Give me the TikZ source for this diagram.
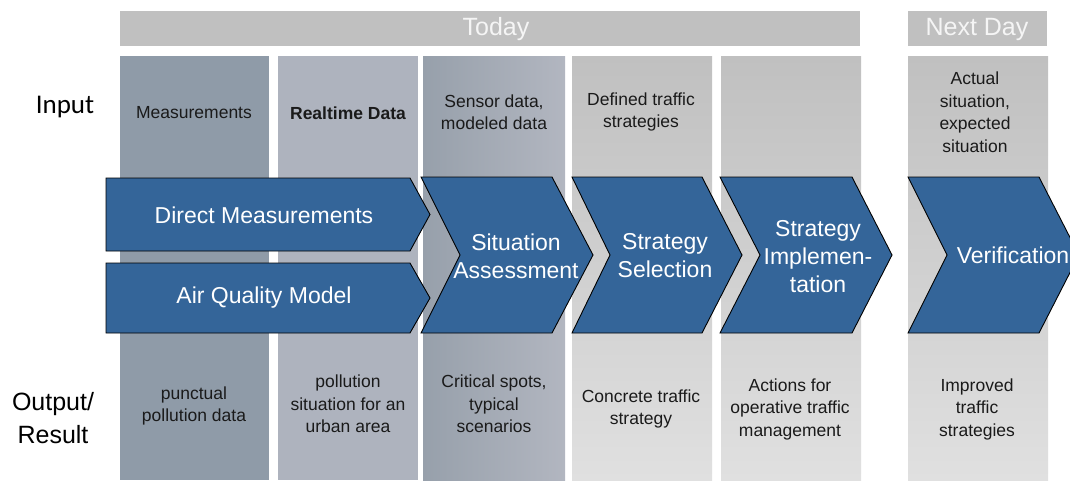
\documentclass[tikz,border=0pt]{standalone}
\usepackage{fontspec}
\setmainfont{Liberation Sans}
\newfontfamily\labelfont{Carlito}
\definecolor{chevblue}{HTML}{346599}
\definecolor{colA}{HTML}{8F9BA8}
\definecolor{colB}{HTML}{AEB3BE}
\definecolor{colCl}{HTML}{97A0AB}
\definecolor{colCr}{HTML}{B2B6C0}
\definecolor{greyTop}{HTML}{C0C0C0}
\definecolor{greyBot}{HTML}{E0E0E0}
\definecolor{banner}{HTML}{C0C0C0}
\definecolor{txt}{HTML}{1A1A1A}
\begin{document}
\begin{tikzpicture}[x=1pt,y=-1pt,
  bannerbox/.style={fill=banner,draw=none},
  bannertext/.style={font=\fontsize{25}{28}\selectfont,text=white!96!black,inner sep=0pt},
  chev/.style={fill=chevblue,draw=black,line width=0.9pt,line join=miter},
  chevtext/.style={font=\fontsize{23}{28}\selectfont,text=white,align=center,inner sep=0pt},
  small/.style={font=\fontsize{17.5}{22.5}\selectfont,text=txt,align=center,inner sep=0pt},
  rowlabel/.style={font=\fontsize{25}{33}\selectfont,text=black,align=center,inner sep=0pt}]
\useasboundingbox (0,0) rectangle (1070,480);
\clip (0,0) rectangle (1070,480);
\fill[white] (0,0) rectangle (1070,480);

% time banners
\fill[bannerbox] (120,11) rectangle (860,46);
\fill[bannerbox] (908,11) rectangle (1047,46);
\node[bannertext] (today) at (496,29) {Today};
\node[bannertext] (nextday) at (977,29) {Next Day};

% phase columns
\fill[colA] (120,56) rectangle (269,480);
\fill[colB] (278,56) rectangle (418,480);
\shade[left color=colCl,right color=colCr] (423,56) rectangle (565,480);
\shade[top color=greyTop,bottom color=greyBot] (572,56) rectangle (712,480);
\shade[top color=greyTop,bottom color=greyBot] (721,56) rectangle (861,480);
\shade[top color=greyTop,bottom color=greyBot] (908,56) rectangle (1048,480);

% process chevrons
\draw[chev] (106,178) -- (410,178) -- (430,214.5) -- (410,251) -- (106,251) -- cycle;
\draw[chev] (106,263) -- (410,263) -- (430,298) -- (410,333) -- (106,333) -- cycle;
\draw[chev] (421,177) -- (552,177) -- (593,255) -- (552,333) -- (421,333) -- (460,255) -- cycle;
\draw[chev] (572,177) -- (702,177) -- (742,255) -- (702,333) -- (572,333) -- (610,255) -- cycle;
\draw[chev] (720,177) -- (852,177) -- (892,255) -- (852,333) -- (720,333) -- (760,255) -- cycle;
\draw[chev] (908,177) -- (1039,177) -- (1079,255) -- (1039,333) -- (908,333) -- (947,255) -- cycle;

\node[chevtext] (dm) at (264,215) {Direct Measurements};
\node[chevtext] (aqm) at (264,298) {Air Quality Model};
\node[chevtext] (sa) at (516,256) {Situation\\Assessment};
\node[chevtext] (ss) at (665,256) {Strategy\\Selection};
\node[chevtext] (si) at (818,257) {Strategy\\Implemen-\\tation};
\node[chevtext] (ve) at (1013,255) {Verification};

% row labels
\node[rowlabel,font=\labelfont\fontsize{27}{33}\selectfont] (input) at (65,107) {Input};
\node[rowlabel] (output) at (53,418) {Output/\\Result};

% inputs
\node[small] (in1) at (194,113) {Measurements};
\node[small,font=\bfseries\fontsize{17.5}{22.5}\selectfont] (in2) at (348,113) {Realtime Data};
\node[small] (in3) at (494,112) {Sensor data,\\modeled data};
\node[small] (in4) at (641,112) {Defined traffic\\strategies};
\node[small] (in6) at (975,112) {Actual\\situation,\\expected\\situation};

% outputs
\node[small] (out1) at (194,406) {punctual\\pollution data};
\node[small] (out2) at (348,404) {pollution\\situation for an\\urban area};
\node[small] (out3) at (494,404) {Critical spots,\\typical\\scenarios};
\node[small] (out4) at (641,409) {Concrete traffic\\strategy};
\node[small] (out5) at (790,409) {Actions for\\operative traffic\\management};
\node[small] (out6) at (977,409) {Improved\\traffic\\strategies};
\end{tikzpicture}
\end{document}
